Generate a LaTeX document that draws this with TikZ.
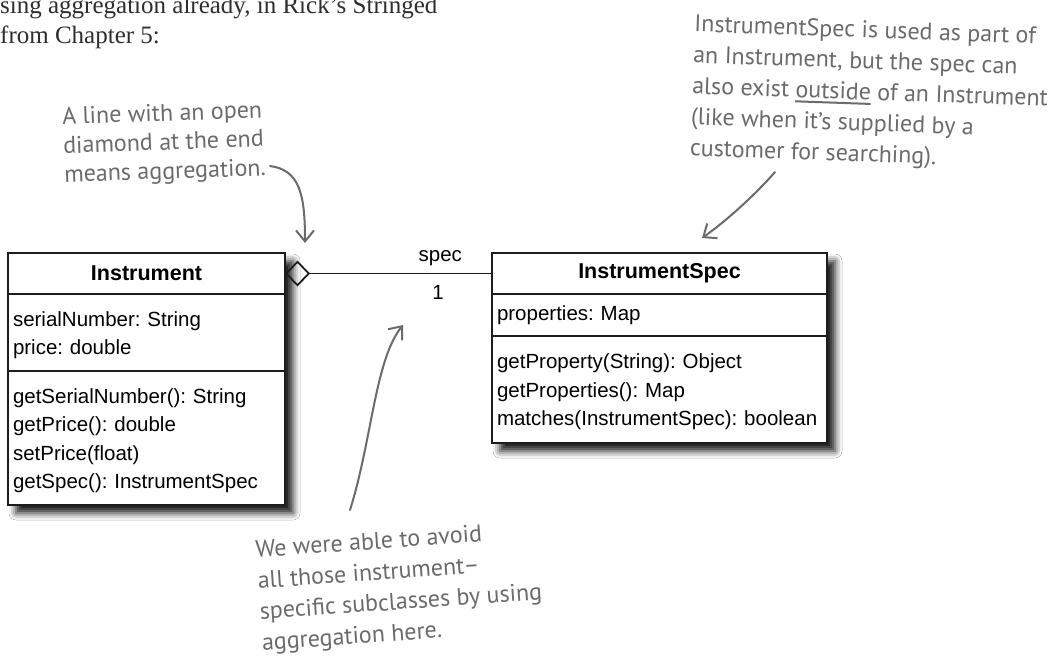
\documentclass[tikz,border=0pt]{standalone}
\usepackage{fontspec}
\setmainfont{Liberation Sans}
\newfontfamily\bookfont{Liberation Serif}
\newfontfamily\handfont{PT Sans}
\usetikzlibrary{arrows.meta, positioning, shadows.blur, fit, backgrounds}
\definecolor{ink}{HTML}{1C1C1C}
\definecolor{pen}{HTML}{6B6B6B}
\definecolor{booktext}{HTML}{2E2E2E}
\newcommand{\penline}[1]{\setbox0=\hbox{#1}\rlap{\raisebox{-5pt}{\color{pen}\rule{\wd0}{2pt}}}\box0\relax}
\frenchspacing

\begin{document}
\begin{tikzpicture}[x=1pt, y=-1pt, font=\fontsize{20.5}{28.5}\selectfont,
    head/.style={draw=ink, line width=1.6pt, fill=white, minimum width=#1, minimum height=41pt, inner sep=0pt, outer sep=0pt, font=\fontsize{21.5}{24}\selectfont\bfseries},
    part/.style={draw=ink, line width=1.6pt, fill=white, text width=#1, align=left, inner xsep=5pt, inner ysep=0pt, outer sep=0pt},
    boxshadow/.style={fill=white, inner sep=0pt, blur shadow={shadow xshift=8pt, shadow yshift=-8pt, shadow blur radius=7pt, shadow opacity=90}},
    agg/.style={draw=ink, line width=1.8pt, {Diamond[open, length=25pt, width=26pt]}-},
    note/.style={text=pen, align=left, inner sep=0pt, font=\handfont\fontsize{24}{#1}\selectfont},
    pointer/.style={draw=pen, line width=2pt, line cap=round, -{Straight Barb[length=11pt, width=18pt]}},
    book/.style={text=booktext, inner sep=0pt, anchor=base west, font=\bookfont\fontsize{25}{30}\selectfont}]
    \useasboundingbox (0,0) rectangle (1064,662);

    % Book text
    \node[book] (book1) at (0,13) {sing aggregation already, in Rick’s Stringed};
    \node[book] (book2) at (0,43) {from Chapter 5:};

    % Instrument
    \node[head=277pt] (inst) at (146.5,273.5) {Instrument};
    \node[part=267pt, minimum height=77pt, below=0pt of inst] (instattr) {\strut serialNumber: String\\price: double};
    \node[part=267pt, minimum height=134pt, below=0pt of instattr] (instops) {\strut getSerialNumber(): String\\getPrice(): double\\setPrice(float)\\getSpec(): InstrumentSpec};

    % InstrumentSpec
    \node[head=335pt] (spec) at (659.5,273.5) {InstrumentSpec};
    \node[part=325pt, minimum height=42pt, below=0pt of spec] (specattr) {\strut properties: Map};
    \node[part=325pt, minimum height=107pt, below=0pt of specattr] (specops) {\strut getProperty(String): Object\\getProperties(): Map\\matches(InstrumentSpec): boolean};

    % Shadows
    \begin{scope}[on background layer]
        \fill[white] (0,0) rectangle (1064,662);
        \node[boxshadow, fit=(inst)(instops)] (instbg) {};
        \node[boxshadow, fit=(spec)(specops)] (specbg) {};
    \end{scope}

    % Aggregation
    \draw[agg] (inst) -- (spec)
        node[pos=0.75, above=4pt] (role) {spec}
        node[pos=0.74, below=8pt] (mult) {1};

    % Notes
    \node[note=29pt, rotate=2] (note1) at (164,144) {A line with an open\\diamond at the end\\means aggregation.};
    \node[note=31pt, rotate=-2] (note2) at (870,94) {InstrumentSpec is used as part of\\an Instrument, but the spec can\\also exist \penline{outside} of an Instrument\\(like when it’s supplied by a\\customer for searching).};
    \node[note=31pt, rotate=4] (note3) at (400,588) {We were able to avoid\\all those instrument–\\specific subclasses by using\\aggregation here.};

    % Pointers
    \coordinate (note1end) at (270,166);
    \coordinate (aggtop) at (305,243);
    \coordinate (note2end) at (775,172);
    \coordinate (spectop) at (702,238);
    \coordinate (note3end) at (350,510);
    \coordinate (linebelow) at (403,325);
    \draw[pointer] (note1end) .. controls (300,170) and (305,195) .. (aggtop);
    \draw[pointer] (note2end) .. controls (755,195) and (725,222) .. (spectop);
    \draw[pointer] (note3end) .. controls (372,440) and (375,360) .. (linebelow);
\end{tikzpicture}
\end{document}
